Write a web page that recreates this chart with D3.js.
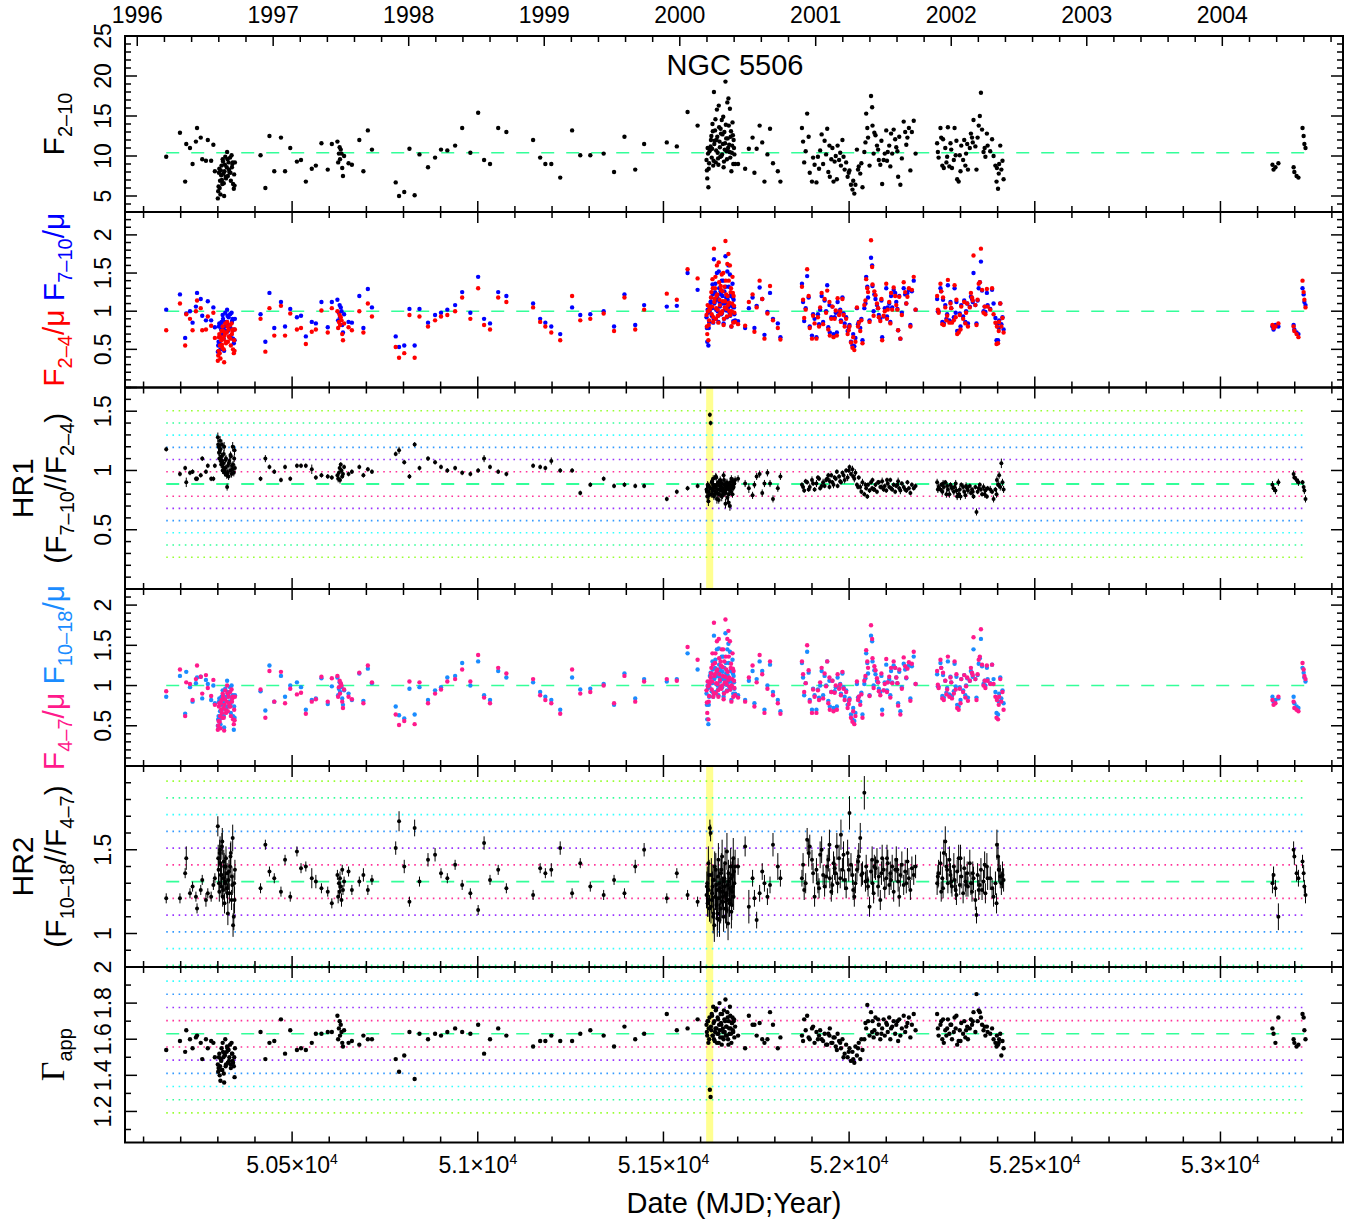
<!DOCTYPE html>
<html>
<head>
<meta charset="utf-8">
<script src="https://cdn.jsdelivr.net/npm/d3@7"></script>
<style>
  body { margin: 0; background: #fff; }
  text { font-family: "Liberation Sans", Arial, Helvetica, sans-serif; }
</style>
</head>
<body>
<div id="chart"></div>
<script>
// observation dates (MJD), one entry per pointing
var mjd = [
  50161,50198,50212,50215,50225,50232,50241,50244,50254,50258,50268,50273,50282,50288,50292,
  50300,50301,50302,50303,50304,50306,50307,50309,50310,50312,50313,50315,50317,50318,50320,50322,50324,50325,50327,50329,50331,50333,50335,50337,50338,50340,50341,50343,50344,50346,
  50415,50428,50439,50452,50470,50481,50495,50513,50524,50537,50553,50564,50579,50596,50607,
  50622,50624,50626,50628,50629,50631,50633,50635,50637,50640,
  50652,50661,50681,50692,50704,50715,
  50779,50788,50802,50816,50830,50843,
  50866,50885,50901,50918,50939,50958,50980,51001,51017,51033,51055,51077,51149,51168,51182,51198,51222,51254,51276,51303,
  51339,51367,51395,51424,51448,51509,51536,51565,51592,
  51616,51618,51619,51621,51622,51624,51625,51627,51629,51630,51632,51634,51636,51637,51639,51641,51643,51644,51646,51648,51650,51651,51653,51655,51657,51658,51660,51662,51664,51665,51667,51669,51671,51672,51674,51676,51678,51679,51681,51683,51685,51686,51688,51689,51691,51693,
  51701,51720,51730,51740,51745,51751,51759,51766,51772,51780,51787,51795,51808,51815,
  51873,51879,51887,51894,51900,51907,51912,51916,51922,51930,51934,51941,51947,51948,51952,51958,51964,51969,51973,51978,51982,51988,51992,51996,52001,52005,52009,52014,52017,52021,52026,52030,52036,52041,52046,52049,52051,52055,52059,52062,52063,52066,52071,52075,52080,52084,52089,52093,52096,52100,52104,52108,52111,52116,52120,52124,52127,52132,52135,52138,52142,52147,52151,52157,52161,52165,52169,52174,52179,
  52237,52241,52246,52248,52251,52255,52259,52264,52266,52270,52273,52277,52282,52284,52287,52291,52295,52298,52302,52307,52310,52313,52318,52320,52325,52328,52331,52335,52340,52343,52346,52352,52355,52358,52362,52367,52371,52373,52385,52389,52394,52397,52398,52401,52404,52407,52410,52413,52416,
  53140,53143,53148,53156,53197,53199,53205,53210,53221,53224,53226,53229,
  51617,51620,51623,51628,51631,51633,51635,51638,51640,51642,51645,51647,51649,51652,51654,51656,51659,51661,51663,51666,51668,51670,51673,51675,51677,51680,51682,51684,51687,51690,
  50305,50308,50311,50314,50316,50319,50321,50326,50330,50334,50339,50345,
  51876,51883,51891,51903,51919,51926,51938,51944,51955,51961,51967,51976,51985,51999,52011,52024,52033,52044,52068,52078,52087,52102,52113,52130,52154,
  52239,52253,52262,52275,52289,52300,52315,52333,52349,52365,52380,52403
];

// 2-10 keV flux
var f210 = [
  9.9,12.9,6.8,11.5,11.0,9.0,11.8,13.5,12.3,9.6,9.4,12.0,9.4,11.4,8.1,
  4.7,5.6,6.2,7.9,8.4,6.9,5.2,7.6,8.8,6.5,9.6,7.8,5.0,8.1,9.9,7.2,8.6,10.5,7.5,9.2,8.0,9.8,6.9,10.1,8.6,9.2,6.5,5.9,7.7,9.2,
  10.1,6.0,12.5,8.1,12.3,8.1,11.0,9.3,9.5,6.8,8.4,8.8,11.6,8.3,11.5,
  11.8,9.2,10.3,11.1,9.6,10.8,10.3,8.5,7.5,10.0,
  9.1,8.9,12.0,8.1,13.2,10.8,
  6.7,5.0,5.5,10.9,5.1,10.2,
  8.6,9.8,10.8,10.7,11.3,13.5,10.4,15.4,9.5,9.0,13.5,13.0,12.0,9.8,9.0,9.0,7.3,13.2,10.1,10.1,
  10.3,8.0,12.4,8.3,11.5,11.7,11.2,15.5,13.8,
  9.5,7.2,11.0,6.1,8.4,10.6,10.8,11.2,12.5,9.8,14.0,8.8,18.0,11.5,13.2,9.2,12.0,15.8,10.4,8.9,13.6,11.8,9.9,12.8,14.5,10.2,11.5,8.6,13.0,10.8,19.3,12.2,9.6,16.7,11.0,13.8,10.5,15.9,12.4,8.1,11.3,14.2,9.0,12.0,10.2,9.0,
  9.0,8.4,10.9,12.3,7.9,10.9,13.8,11.7,6.8,10.2,13.4,9.1,8.1,6.8,
  13.5,9.2,15.3,7.9,6.8,8.9,6.7,9.9,10.7,9.0,11.9,13.4,11.3,7.4,9.6,6.8,10.0,11.3,9.5,8.8,12.0,8.3,9.2,7.4,8.2,6.4,5.8,5.3,6.4,10.8,8.7,7.8,6.1,10.5,15.3,13.5,12.3,8.8,17.5,16.1,13.8,10.3,12.6,11.3,9.5,8.9,6.5,9.5,10.3,13.2,10.5,11.3,8.7,10.3,13.3,12.1,11.1,7.4,12.4,6.4,9.7,14.3,13.0,12.3,13.5,8.2,13.0,14.4,10.3,
  11.6,9.8,13.5,12.3,8.8,8.5,11.0,9.9,13.6,8.7,11.6,8.5,9.5,13.5,10.1,7.1,6.8,10.1,11.3,9.5,12.0,8.8,11.5,8.3,11.0,12.8,12.3,14.5,11.2,8.3,12.3,15.0,17.9,13.3,10.5,9.9,12.8,11.3,12.1,10.0,8.8,6.8,8.5,5.9,9.0,11.3,8.3,9.4,7.1,
  8.9,8.3,8.6,9.1,8.6,8.0,7.5,7.3,13.5,12.5,11.5,11.0,
  8.2,10.3,9.1,12.0,10.9,13.1,9.4,11.9,14.6,10.7,12.4,9.7,16.3,11.1,13.4,10.0,12.7,14.9,9.3,11.6,13.9,10.6,12.2,17.2,11.4,9.8,13.1,10.4,12.6,11.0,
  6.0,8.2,7.0,9.3,6.6,8.9,7.4,9.6,8.3,7.9,9.0,6.3,
  11.8,10.6,12.4,9.8,8.4,12.7,10.2,8.0,11.0,9.3,7.1,10.4,9.9,7.9,6.9,8.3,9.1,11.7,12.9,10.8,11.9,9.4,12.8,10.6,11.4,
  10.5,12.1,9.2,10.8,11.9,8.1,10.3,11.7,13.8,11.0,10.6,7.8
];

// F(2-4)/mean (red) and F(7-10)/mean (blue)
var r24 = [
  0.75,1.10,0.55,0.96,0.90,0.75,1.00,1.14,1.04,0.75,0.76,0.93,0.81,0.98,0.65,
  0.35,0.42,0.48,0.66,0.70,0.55,0.38,0.62,0.74,0.52,0.80,0.64,0.33,0.68,0.84,0.58,0.72,0.86,0.60,0.76,0.66,0.82,0.55,0.84,0.70,0.76,0.50,0.45,0.62,0.76,
  0.90,0.47,1.04,0.68,1.07,0.68,0.97,0.76,0.78,0.57,0.73,0.76,1.01,0.72,1.04,
  1.00,0.78,0.86,0.95,0.82,0.92,0.88,0.70,0.62,0.84,
  0.79,0.75,1.00,0.72,1.10,0.93,
  0.53,0.39,0.45,0.95,0.39,0.93,
  0.80,0.88,0.93,0.95,1.00,1.18,0.90,1.30,0.82,0.76,1.18,1.12,1.05,0.86,0.80,0.72,0.62,1.20,0.88,0.90,
  0.97,0.74,1.18,0.76,1.02,1.23,1.15,1.55,1.43,
  0.95,0.70,1.08,0.62,0.82,1.05,1.02,1.06,1.25,0.96,1.42,0.86,1.82,1.12,1.30,0.90,1.20,1.60,1.02,0.85,1.38,1.15,0.97,1.28,1.48,1.00,1.13,0.82,1.32,1.05,1.92,1.22,0.93,1.62,1.08,1.40,1.00,1.60,1.25,0.80,1.10,1.45,0.85,1.20,0.98,0.86,
  0.83,0.81,1.12,1.22,0.73,1.05,1.40,1.16,0.64,0.97,1.33,0.88,0.78,0.63,
  1.32,0.91,1.55,0.78,0.64,0.84,0.64,0.92,1.05,0.83,1.16,1.27,1.12,0.68,0.90,0.66,1.01,1.17,0.95,0.86,1.16,0.80,0.90,0.70,0.80,0.59,0.52,0.49,0.60,1.05,0.85,0.74,0.58,1.08,1.42,1.30,1.25,0.86,1.93,1.58,1.35,0.94,1.21,1.10,0.92,0.87,0.62,0.94,1.00,1.36,1.02,1.12,0.84,1.02,1.31,1.20,1.08,0.75,1.19,0.64,0.95,1.38,1.25,1.19,1.30,0.80,1.28,1.45,1.02,
  1.20,0.98,1.36,1.26,0.83,0.82,1.05,0.94,1.41,0.85,1.10,0.85,0.88,1.34,0.92,0.70,0.72,0.95,1.06,0.90,1.12,0.84,1.10,0.80,1.05,1.24,1.18,1.73,1.08,0.82,1.15,1.38,1.82,1.28,0.98,0.96,1.29,1.06,1.30,0.96,0.85,0.57,0.80,0.58,0.86,1.10,0.80,0.91,0.72,
  0.82,0.78,0.80,0.84,0.80,0.74,0.70,0.66,1.40,1.25,1.15,1.05,
  0.80,1.00,0.88,1.18,1.06,1.30,0.92,1.16,1.45,1.04,1.22,0.94,1.64,1.08,1.33,0.97,1.26,1.50,0.90,1.13,1.40,1.03,1.20,1.75,1.11,0.95,1.30,1.00,1.24,1.07,
  0.45,0.66,0.56,0.74,0.50,0.72,0.60,0.80,0.67,0.64,0.74,0.48,
  1.15,1.02,1.20,0.94,0.80,1.24,0.98,0.76,1.06,0.90,0.68,1.00,0.95,0.75,0.66,0.80,0.88,1.14,1.26,1.04,1.16,0.90,1.24,1.02,1.10,
  1.02,1.18,0.88,1.04,1.15,0.76,0.98,1.14,1.36,1.06,1.02,0.74
];
var r710 = [
  1.02,1.22,0.65,0.97,1.00,0.85,1.06,1.24,1.16,0.94,0.88,1.13,0.88,1.05,0.79,
  0.47,0.55,0.60,0.80,0.84,0.68,0.50,0.76,0.86,0.64,0.95,0.78,0.48,0.80,0.98,0.72,0.86,1.02,0.74,0.92,0.80,0.96,0.68,0.98,0.86,0.90,0.64,0.58,0.76,0.90,
  0.96,0.60,1.24,0.78,1.12,0.80,1.03,0.92,0.94,0.67,0.86,0.84,1.12,0.79,1.12,
  1.15,0.88,0.98,1.08,0.92,1.05,1.00,0.82,0.72,0.96,
  0.86,0.85,1.20,0.78,1.29,1.05,
  0.67,0.53,0.55,1.03,0.55,1.03,
  0.85,0.95,0.98,1.02,1.08,1.25,0.98,1.45,0.90,0.84,1.25,1.20,1.10,0.90,0.85,0.80,0.70,1.05,0.95,0.96,
  1.00,0.80,1.22,0.82,1.08,1.06,1.07,1.50,1.28,
  0.92,0.60,1.02,0.55,0.78,1.00,1.08,1.12,1.18,0.94,1.35,0.85,1.68,1.10,1.25,0.90,1.15,1.50,1.00,0.86,1.30,1.12,0.96,1.22,1.40,0.98,1.10,0.84,1.26,1.02,1.72,1.18,0.92,1.52,1.05,1.32,0.98,1.48,1.20,0.80,1.06,1.36,0.87,1.15,0.96,0.88,
  0.87,0.78,1.04,1.18,0.78,1.07,1.31,1.16,0.69,0.99,1.24,0.90,0.84,0.66,
  1.36,0.87,1.46,0.80,0.68,0.90,0.66,0.96,1.02,0.86,1.14,1.34,1.08,0.72,0.92,0.70,0.98,1.12,0.98,0.88,1.18,0.84,0.92,0.74,0.82,0.60,0.55,0.54,0.65,1.04,0.86,0.78,0.62,1.04,1.45,1.32,1.18,0.88,1.70,1.60,1.33,1.00,1.16,1.08,0.95,0.90,0.66,0.93,1.04,1.30,1.05,1.10,0.86,1.05,1.28,1.24,1.12,0.75,1.20,0.64,0.98,1.30,1.22,1.24,1.28,0.82,1.26,1.40,1.02,
  1.16,1.00,1.30,1.26,0.86,0.84,1.08,0.96,1.34,0.88,1.12,0.86,0.92,1.30,0.98,0.74,0.74,0.97,1.08,0.93,1.14,0.86,1.10,0.84,1.06,1.19,1.16,1.50,1.08,0.84,1.14,1.38,1.65,1.27,1.00,0.99,1.24,1.08,1.28,1.10,0.91,0.62,0.83,0.62,0.88,1.10,0.83,0.92,0.76,
  0.80,0.76,0.82,0.80,0.82,0.76,0.72,0.70,1.30,1.22,1.12,1.08,
  0.78,0.98,0.86,1.12,1.04,1.22,0.90,1.12,1.36,1.02,1.18,0.94,1.52,1.06,1.26,0.96,1.20,1.40,0.90,1.10,1.32,1.01,1.15,1.60,1.08,0.94,1.24,0.99,1.18,1.05,
  0.58,0.82,0.70,0.90,0.64,0.86,0.74,0.94,0.82,0.78,0.88,0.62,
  1.12,1.04,1.18,0.96,0.83,1.20,1.00,0.79,1.06,0.92,0.72,1.02,0.97,0.79,0.70,0.83,0.90,1.10,1.22,1.04,1.14,0.93,1.20,1.03,1.10,
  1.00,1.15,0.90,1.04,1.12,0.80,1.00,1.12,1.30,1.06,1.03,0.78
];

// HR1 = F(7-10)/F(2-4) and its 1-sigma error
var hr1 = [
  1.18,0.97,1.02,0.90,0.98,0.99,0.93,0.93,0.96,1.10,0.99,1.04,0.93,0.93,1.04,
  1.28,1.22,1.20,1.15,1.10,1.25,1.18,1.05,1.12,1.08,1.00,1.06,1.20,0.98,1.02,1.10,0.96,0.86,1.04,0.95,1.08,1.00,1.12,0.97,1.04,1.20,1.05,0.98,1.10,1.02,
  0.93,1.10,1.03,0.99,0.92,1.03,0.93,1.04,1.04,1.04,1.01,0.94,0.96,0.95,0.94,
  0.96,0.93,0.98,1.02,0.92,1.05,1.00,0.95,0.97,1.03,
  0.97,0.99,1.03,0.96,1.01,0.99,
  1.14,1.17,1.07,0.95,1.22,1.02,
  1.10,1.07,1.03,1.00,1.02,0.98,0.97,1.00,1.10,1.03,0.99,0.97,1.04,1.03,1.02,1.08,1.00,1.00,0.81,0.88,
  0.93,0.87,0.88,0.87,0.87,0.76,0.82,0.85,0.87,
  0.84,0.78,0.88,0.74,0.82,0.86,1.47,1.40,0.80,0.90,0.84,0.93,0.78,0.86,0.82,0.95,0.88,0.76,0.84,0.90,0.80,0.87,0.92,0.83,0.78,0.89,0.85,0.96,0.81,0.88,0.72,0.84,0.90,0.77,0.86,0.80,0.88,0.70,0.85,0.93,0.87,0.80,0.91,0.86,0.89,0.92,
  0.93,0.89,0.85,0.79,0.88,0.95,0.97,0.81,0.89,0.98,0.89,0.76,0.85,0.95,
  0.88,0.83,0.90,0.86,0.92,0.84,0.89,0.94,0.85,0.90,0.87,0.93,0.86,0.91,0.96,0.88,0.93,0.87,0.95,0.90,0.98,0.92,1.00,0.94,1.03,0.97,1.01,0.93,0.98,0.88,0.94,0.86,0.90,0.80,0.85,0.78,0.88,0.83,0.90,0.85,0.92,0.84,0.88,0.82,0.90,0.86,0.91,0.84,0.87,0.83,0.89,0.86,0.92,0.84,0.88,0.82,0.87,0.91,0.85,0.83,0.89,0.86,0.84,0.90,0.85,0.81,0.88,0.85,0.87,
  0.90,0.86,0.84,0.88,0.82,0.86,0.90,0.87,0.84,0.80,0.88,0.85,0.82,0.86,0.89,0.78,0.80,0.84,0.88,0.86,0.82,0.79,0.85,0.83,0.87,0.81,0.84,0.78,0.86,0.65,0.82,0.88,0.84,0.80,0.86,0.83,0.78,0.85,0.82,0.76,0.84,0.80,0.92,0.88,0.96,0.86,1.06,0.90,0.84,
  0.88,0.85,0.83,0.90,0.97,0.94,0.92,0.90,0.90,0.86,0.83,0.76,
  0.82,0.87,0.79,0.85,0.91,0.83,0.88,0.80,0.86,0.94,0.81,0.89,0.75,0.84,0.90,0.86,0.79,0.83,0.92,0.87,0.81,0.85,0.88,0.73,0.84,0.90,0.82,0.87,0.85,0.89,
  1.16,1.08,1.22,1.03,1.14,1.00,1.09,0.98,1.06,1.13,1.01,1.17,
  0.86,0.91,0.84,0.89,0.93,0.87,0.92,0.96,0.90,0.94,0.99,0.91,0.96,1.00,0.95,0.86,0.82,0.88,0.84,0.90,0.86,0.92,0.85,0.88,0.83,
  0.84,0.89,0.80,0.86,0.83,0.78,0.87,0.82,0.85,0.80,0.84,0.88
];
var hr1Err = [
  0.02,0.02,0.02,0.04,0.02,0.02,0.02,0.02,0.02,0.02,0.02,0.02,0.02,0.02,0.02,
  0.04,0.04,0.03,0.03,0.03,0.04,0.04,0.03,0.03,0.03,0.03,0.03,0.04,0.03,0.03,0.03,0.03,0.03,0.03,0.03,0.03,0.03,0.03,0.03,0.03,0.04,0.03,0.03,0.03,0.03,
  0.02,0.03,0.02,0.02,0.02,0.02,0.02,0.02,0.02,0.02,0.04,0.02,0.02,0.02,0.02,
  0.02,0.03,0.02,0.02,0.03,0.02,0.02,0.02,0.02,0.02,
  0.02,0.02,0.02,0.02,0.02,0.02,
  0.02,0.03,0.02,0.02,0.02,0.02,
  0.02,0.02,0.02,0.02,0.02,0.02,0.02,0.02,0.03,0.02,0.02,0.02,0.02,0.02,0.02,0.03,0.02,0.02,0.02,0.02,
  0.02,0.02,0.02,0.02,0.02,0.02,0.02,0.02,0.02,
  0.03,0.03,0.03,0.04,0.03,0.03,0.02,0.02,0.03,0.03,0.03,0.03,0.03,0.03,0.03,0.03,0.03,0.04,0.03,0.03,0.03,0.03,0.03,0.03,0.04,0.03,0.03,0.03,0.03,0.03,0.04,0.03,0.03,0.03,0.03,0.03,0.03,0.04,0.03,0.03,0.03,0.03,0.03,0.03,0.03,0.03,
  0.03,0.03,0.04,0.03,0.03,0.03,0.03,0.03,0.03,0.03,0.03,0.03,0.03,0.03,
  0.02,0.02,0.02,0.03,0.03,0.02,0.03,0.02,0.02,0.03,0.02,0.02,0.02,0.03,0.02,0.03,0.02,0.02,0.02,0.02,0.02,0.03,0.02,0.03,0.02,0.02,0.03,0.03,0.03,0.02,0.02,0.03,0.03,0.02,0.02,0.02,0.02,0.02,0.02,0.02,0.02,0.02,0.02,0.02,0.02,0.02,0.03,0.02,0.02,0.02,0.02,0.02,0.02,0.02,0.02,0.02,0.02,0.03,0.02,0.03,0.02,0.02,0.02,0.02,0.02,0.02,0.02,0.02,0.02,
  0.03,0.03,0.02,0.02,0.03,0.03,0.02,0.03,0.02,0.03,0.02,0.03,0.03,0.02,0.03,0.03,0.03,0.03,0.02,0.03,0.02,0.03,0.02,0.03,0.02,0.02,0.02,0.02,0.02,0.03,0.02,0.02,0.02,0.02,0.03,0.03,0.02,0.02,0.02,0.03,0.02,0.03,0.03,0.02,0.03,0.03,0.04,0.03,0.03,
  0.03,0.03,0.03,0.03,0.03,0.02,0.03,0.03,0.02,0.02,0.03,0.03,
  0.03,0.03,0.03,0.04,0.03,0.03,0.03,0.03,0.03,0.03,0.04,0.03,0.03,0.03,0.03,0.03,0.03,0.03,0.03,0.04,0.03,0.03,0.03,0.04,0.03,0.03,0.03,0.03,0.03,0.03,
  0.04,0.03,0.04,0.03,0.03,0.03,0.03,0.03,0.03,0.03,0.03,0.04,
  0.02,0.02,0.02,0.02,0.02,0.02,0.02,0.02,0.02,0.02,0.02,0.02,0.02,0.02,0.02,0.02,0.02,0.02,0.02,0.02,0.02,0.02,0.02,0.02,0.02,
  0.03,0.03,0.03,0.03,0.03,0.03,0.03,0.03,0.03,0.03,0.03,0.03
];

// F(4-7)/mean (magenta) and F(10-18)/mean (azure)
var r47 = [
  0.93,1.20,0.62,1.04,1.02,0.82,1.08,1.25,1.11,0.90,1.13,0.97,0.87,1.07,0.76,
  0.45,0.50,0.56,0.74,0.78,0.62,0.47,0.70,0.82,0.60,0.90,0.72,0.44,0.76,0.94,0.66,0.80,1.00,0.68,0.86,0.74,0.92,0.62,0.95,0.80,0.86,0.58,0.52,0.70,0.86,
  0.95,0.60,1.18,0.80,1.17,0.78,0.96,0.89,0.91,0.65,0.80,0.83,1.11,0.80,1.09,
  1.12,0.86,0.98,1.06,0.90,1.03,1.00,0.80,0.72,0.95,
  0.86,0.83,1.16,0.78,1.25,1.04,
  0.64,0.51,0.56,1.05,0.52,1.04,
  0.78,0.90,0.95,1.05,1.08,1.20,1.05,1.38,0.85,0.78,1.22,1.15,1.08,0.88,0.82,0.78,0.65,1.20,0.90,0.92,
  1.00,0.78,1.12,0.80,1.05,1.08,1.06,1.48,1.32,
  0.94,0.66,1.05,0.58,0.80,1.02,1.05,1.10,1.22,0.95,1.40,0.86,1.78,1.12,1.28,0.90,1.18,1.55,1.02,0.86,1.34,1.14,0.97,1.25,1.45,1.00,1.12,0.83,1.30,1.04,1.82,1.20,0.93,1.58,1.07,1.36,0.99,1.55,1.22,0.80,1.08,1.40,0.86,1.18,0.97,0.88,
  0.85,0.80,1.10,1.25,0.74,1.04,1.38,1.14,0.66,0.96,1.30,0.88,0.78,0.65,
  1.30,0.92,1.50,0.80,0.66,0.86,0.66,0.94,1.04,0.84,1.15,1.30,1.10,0.70,0.92,0.68,1.00,1.14,0.96,0.88,1.17,0.82,0.92,0.72,0.82,0.60,0.55,0.52,0.62,1.05,0.86,0.76,0.60,1.06,1.44,1.30,1.22,0.87,1.75,1.58,1.34,0.97,1.19,1.09,0.93,0.88,0.64,0.94,1.02,1.33,1.04,1.11,0.85,1.03,1.30,1.22,1.10,0.75,1.20,0.64,0.96,1.35,1.24,1.21,1.29,0.81,1.27,1.42,1.02,
  1.18,0.97,1.32,1.22,0.84,0.82,1.06,0.95,1.36,0.86,1.10,0.84,0.90,1.30,0.95,0.72,0.70,0.96,1.08,0.92,1.13,0.85,1.10,0.81,1.06,1.22,1.16,1.60,1.08,0.82,1.14,1.36,1.70,1.26,1.00,0.97,1.25,1.06,1.26,1.02,0.86,0.60,0.82,0.58,0.86,1.08,0.80,0.92,0.70,
  0.82,0.76,0.78,0.86,0.80,0.72,0.70,0.68,1.28,1.20,1.12,1.08,
  0.79,0.99,0.87,1.15,1.05,1.26,0.91,1.14,1.40,1.03,1.20,0.94,1.58,1.07,1.30,0.96,1.23,1.45,0.90,1.11,1.36,1.02,1.17,1.68,1.10,0.95,1.27,1.00,1.21,1.06,
  0.55,0.78,0.66,0.86,0.60,0.83,0.70,0.90,0.78,0.74,0.84,0.57,
  1.14,1.03,1.19,0.95,0.82,1.22,0.99,0.78,1.06,0.91,0.70,1.01,0.96,0.77,0.68,0.82,0.89,1.12,1.24,1.04,1.15,0.92,1.22,1.03,1.10,
  1.01,1.16,0.89,1.04,1.14,0.78,0.99,1.13,1.32,1.06,1.02,0.76
];
var r1018 = [
  0.86,1.12,0.65,1.17,0.98,0.80,1.03,1.10,1.11,0.84,1.07,1.02,0.82,1.00,0.78,
  0.50,0.58,0.62,0.80,0.84,0.68,0.52,0.76,0.86,0.64,0.94,0.78,0.48,0.80,0.96,0.72,0.86,1.06,0.74,0.90,0.80,0.98,0.66,1.00,0.84,0.88,0.62,0.45,0.74,0.88,
  0.93,0.69,1.25,0.80,1.12,0.86,1.00,1.04,0.98,0.70,0.82,0.84,1.09,0.77,0.99,
  1.10,0.88,0.96,1.04,0.92,1.02,0.98,0.84,0.76,0.94,
  0.90,0.82,1.15,0.81,1.21,1.03,
  0.74,0.63,0.59,0.96,0.64,0.98,
  0.82,0.94,0.98,1.10,1.12,1.28,1.00,1.30,0.88,0.82,1.18,1.10,1.04,0.92,0.86,0.82,0.70,1.10,0.95,0.96,
  1.02,0.76,1.15,0.84,1.08,1.05,1.08,1.40,1.20,
  0.90,0.58,1.00,0.52,0.76,0.98,1.12,1.16,1.15,0.93,1.30,0.86,1.62,1.08,1.22,0.92,1.12,1.45,1.00,0.88,1.26,1.10,0.98,1.18,1.36,0.98,1.08,0.86,1.22,1.02,1.65,1.15,0.94,1.45,1.04,1.28,0.98,1.42,1.18,0.82,1.04,1.32,0.90,1.12,0.96,0.90,
  0.88,0.82,1.06,1.18,0.78,1.08,1.30,1.18,0.70,1.00,1.26,0.92,0.82,0.68,
  1.28,0.88,1.42,0.82,0.70,0.88,0.70,0.95,1.00,0.88,1.12,1.30,1.06,0.74,0.92,0.72,0.98,1.10,0.98,0.90,1.15,0.86,0.94,0.76,0.84,0.64,0.58,0.56,0.66,1.02,0.86,0.80,0.64,1.02,1.40,1.28,1.15,0.88,1.62,1.55,1.30,1.00,1.14,1.06,0.96,0.92,0.70,0.94,1.04,1.26,1.04,1.08,0.88,1.04,1.25,1.22,1.10,0.78,1.17,0.68,0.98,1.27,1.20,1.22,1.25,0.84,1.24,1.36,1.02,
  1.14,0.99,1.28,1.22,0.87,0.85,1.06,0.97,1.30,0.89,1.11,0.87,0.93,1.27,0.99,0.76,0.74,0.98,1.08,0.94,1.13,0.88,1.09,0.85,1.06,1.18,1.15,1.45,1.08,0.85,1.13,1.34,1.58,1.24,1.02,1.00,1.22,1.08,1.26,1.08,0.92,0.66,0.85,0.64,0.90,1.10,0.84,0.94,0.78,
  0.86,0.80,0.82,0.84,0.86,0.78,0.74,0.72,1.22,1.16,1.10,1.05,
  0.76,0.97,0.86,1.10,1.03,1.20,0.90,1.10,1.32,1.02,1.16,0.95,1.46,1.05,1.22,0.97,1.17,1.36,0.91,1.08,1.28,1.01,1.13,1.52,1.07,0.95,1.20,0.99,1.15,1.04,
  0.58,0.80,0.70,0.88,0.62,0.85,0.74,0.92,0.80,0.77,0.86,0.60,
  1.10,1.03,1.16,0.96,0.85,1.18,1.00,0.81,1.06,0.93,0.74,1.02,0.98,0.81,0.72,0.85,0.91,1.09,1.19,1.04,1.12,0.94,1.18,1.03,1.09,
  0.99,1.13,0.91,1.04,1.11,0.82,1.00,1.11,1.27,1.06,1.03,0.80
];

// HR2 = F(10-18)/F(4-7) and its 1-sigma error
var hr2 = [
  1.21,1.21,1.36,1.45,1.24,1.28,1.22,1.15,1.26,1.32,1.20,1.24,1.22,1.29,1.33,
  1.64,1.45,1.38,1.30,1.25,1.50,1.42,1.28,1.35,1.55,1.22,1.33,1.40,1.18,1.30,1.45,1.27,1.36,1.12,1.32,1.24,1.40,1.48,1.20,1.34,1.57,1.05,1.10,1.30,1.38,
  1.27,1.53,1.37,1.33,1.25,1.44,1.22,1.49,1.39,1.40,1.33,1.31,1.27,1.25,1.18,
  1.35,1.22,1.30,1.25,1.33,1.28,1.20,1.38,1.26,1.31,
  1.37,1.26,1.31,1.35,1.26,1.32,
  1.51,1.67,1.40,1.19,1.63,1.31,
  1.44,1.47,1.36,1.33,1.41,1.29,1.24,1.14,1.54,1.32,1.38,1.27,1.23,1.39,1.36,1.38,1.51,1.24,1.42,1.28,
  1.23,1.32,1.24,1.40,1.50,1.21,1.36,1.23,1.19,
  1.23,1.30,1.18,1.42,1.26,1.15,1.63,1.60,1.35,1.20,1.28,1.10,1.32,1.05,1.22,1.38,1.17,1.26,1.12,1.44,1.30,1.08,1.25,1.36,1.19,1.46,1.22,1.10,1.33,1.28,1.15,1.24,1.49,1.20,1.06,1.31,1.18,1.27,1.40,1.13,1.25,1.35,1.45,1.22,1.30,1.40,
  1.40,1.52,1.16,1.33,1.21,1.08,1.24,1.37,1.30,1.22,1.29,1.53,1.40,1.33,
  1.33,1.26,1.56,1.52,1.44,1.22,1.38,1.30,1.47,1.35,1.28,1.40,1.53,1.33,1.25,1.42,1.36,1.30,1.45,1.59,1.38,1.32,1.27,1.48,1.72,1.41,1.35,1.22,1.30,1.38,1.46,1.57,1.36,1.84,1.40,1.32,1.28,1.16,1.37,1.44,1.30,1.24,1.39,1.43,1.34,1.20,1.45,1.38,1.27,1.33,1.42,1.29,1.36,1.40,1.25,1.38,1.44,1.31,1.22,1.35,1.41,1.29,1.37,1.43,1.33,1.26,1.39,1.35,1.40,
  1.30,1.36,1.42,1.25,1.33,1.48,1.55,1.38,1.30,1.44,1.35,1.28,1.40,1.32,1.26,1.37,1.45,1.29,1.34,1.24,1.39,1.31,1.36,1.28,1.42,1.30,1.25,1.33,1.20,1.11,1.35,1.29,1.38,1.26,1.31,1.24,1.40,1.33,1.27,1.22,1.30,1.18,1.53,1.46,1.38,1.34,1.30,1.35,1.32,
  1.30,1.35,1.27,1.10,1.50,1.46,1.36,1.33,1.43,1.36,1.28,1.23,
  1.28,1.20,1.35,1.16,1.24,1.32,1.12,1.40,1.22,1.29,1.09,1.34,1.21,1.27,1.15,1.38,1.25,1.19,1.31,1.42,1.23,1.14,1.29,1.36,1.20,1.26,1.33,1.17,1.28,1.37,
  1.48,1.35,1.52,1.26,1.43,1.31,1.40,1.24,1.37,1.46,1.29,1.20,
  1.41,1.30,1.48,1.36,1.27,1.50,1.34,1.44,1.29,1.39,1.52,1.33,1.47,1.38,1.26,1.43,1.35,1.31,1.40,1.28,1.36,1.45,1.32,1.38,1.30,
  1.34,1.27,1.40,1.31,1.23,1.45,1.29,1.36,1.26,1.41,1.33,1.38
];
var hr2Err = [
  0.03,0.03,0.03,0.07,0.03,0.03,0.03,0.03,0.03,0.03,0.04,0.03,0.03,0.03,0.03,
  0.06,0.08,0.07,0.06,0.06,0.08,0.08,0.06,0.07,0.08,0.06,0.07,0.08,0.06,0.06,0.07,0.06,0.06,0.07,0.06,0.06,0.07,0.07,0.06,0.06,0.08,0.07,0.08,0.06,0.06,
  0.03,0.03,0.03,0.03,0.03,0.03,0.03,0.03,0.03,0.03,0.06,0.04,0.03,0.03,0.03,
  0.03,0.04,0.03,0.03,0.04,0.03,0.04,0.03,0.03,0.03,
  0.03,0.03,0.03,0.04,0.03,0.03,
  0.04,0.06,0.04,0.03,0.05,0.03,
  0.04,0.04,0.03,0.03,0.03,0.03,0.03,0.03,0.04,0.03,0.03,0.03,0.03,0.03,0.03,0.04,0.04,0.03,0.03,0.03,
  0.03,0.03,0.03,0.04,0.04,0.03,0.03,0.03,0.03,
  0.08,0.10,0.08,0.10,0.09,0.08,0.05,0.05,0.10,0.08,0.09,0.10,0.09,0.10,0.08,0.10,0.09,0.08,0.10,0.10,0.09,0.10,0.08,0.09,0.10,0.10,0.08,0.09,0.10,0.08,0.09,0.08,0.11,0.08,0.10,0.09,0.08,0.09,0.11,0.10,0.09,0.10,0.12,0.08,0.09,0.10,
  0.05,0.06,0.10,0.05,0.05,0.05,0.05,0.05,0.05,0.05,0.05,0.07,0.08,0.05,
  0.05,0.06,0.07,0.07,0.06,0.06,0.07,0.06,0.08,0.06,0.06,0.07,0.09,0.06,0.06,0.07,0.06,0.06,0.08,0.09,0.07,0.06,0.06,0.08,0.10,0.07,0.06,0.06,0.06,0.07,0.08,0.09,0.07,0.10,0.07,0.06,0.06,0.06,0.07,0.08,0.06,0.06,0.07,0.08,0.06,0.06,0.08,0.07,0.06,0.06,0.08,0.06,0.07,0.07,0.06,0.07,0.08,0.06,0.06,0.07,0.08,0.06,0.07,0.08,0.06,0.06,0.07,0.06,0.07,
  0.07,0.08,0.07,0.06,0.07,0.08,0.09,0.07,0.06,0.08,0.07,0.06,0.08,0.07,0.06,0.07,0.08,0.06,0.07,0.06,0.07,0.06,0.07,0.06,0.08,0.07,0.06,0.07,0.06,0.05,0.07,0.06,0.07,0.06,0.07,0.06,0.08,0.07,0.06,0.06,0.07,0.06,0.09,0.08,0.08,0.07,0.07,0.08,0.07,
  0.06,0.05,0.05,0.08,0.05,0.05,0.05,0.05,0.04,0.05,0.04,0.05,
  0.09,0.10,0.09,0.10,0.08,0.09,0.10,0.09,0.08,0.10,0.11,0.09,0.08,0.10,0.09,0.10,0.09,0.08,0.10,0.09,0.10,0.11,0.09,0.08,0.10,0.09,0.10,0.09,0.10,0.09,
  0.08,0.07,0.08,0.06,0.07,0.06,0.07,0.06,0.07,0.08,0.06,0.08,
  0.07,0.06,0.08,0.06,0.06,0.08,0.07,0.07,0.06,0.07,0.08,0.06,0.08,0.07,0.06,0.07,0.07,0.06,0.07,0.06,0.07,0.08,0.06,0.07,0.06,
  0.07,0.06,0.08,0.07,0.06,0.08,0.07,0.07,0.06,0.08,0.07,0.07
];

// apparent photon index
var gam = [
  1.54,1.59,1.53,1.65,1.60,1.55,1.61,1.62,1.58,1.49,1.60,1.55,1.59,1.58,1.50,
  1.46,1.42,1.44,1.50,1.52,1.45,1.37,1.48,1.55,1.43,1.58,1.50,1.36,1.52,1.60,1.46,1.53,1.56,1.47,1.54,1.50,1.57,1.44,1.58,1.52,1.48,1.47,1.45,1.50,1.55,
  1.64,1.49,1.58,1.59,1.71,1.52,1.65,1.54,1.55,1.54,1.58,1.63,1.63,1.64,1.64,
  1.73,1.60,1.66,1.70,1.62,1.68,1.64,1.58,1.56,1.65,
  1.58,1.59,1.57,1.62,1.60,1.60,
  1.49,1.42,1.51,1.64,1.38,1.63,
  1.60,1.63,1.62,1.64,1.66,1.64,1.63,1.68,1.52,1.60,1.66,1.62,1.56,1.59,1.59,1.62,1.59,1.59,1.63,1.65,
  1.62,1.56,1.67,1.60,1.63,1.74,1.65,1.66,1.71,
  1.68,1.62,1.70,1.58,1.66,1.72,1.32,1.28,1.65,1.74,1.62,1.78,1.60,1.70,1.64,1.76,1.66,1.58,1.72,1.63,1.68,1.80,1.61,1.69,1.57,1.74,1.66,1.60,1.71,1.64,1.82,1.67,1.62,1.75,1.60,1.70,1.63,1.78,1.66,1.58,1.69,1.72,1.64,1.70,1.61,1.67,
  1.62,1.55,1.73,1.68,1.68,1.62,1.69,1.60,1.58,1.60,1.75,1.68,1.55,1.61,
  1.62,1.71,1.73,1.60,1.66,1.58,1.64,1.60,1.65,1.59,1.63,1.57,1.62,1.66,1.58,1.61,1.56,1.63,1.59,1.55,1.60,1.52,1.57,1.50,1.55,1.48,1.53,1.47,1.56,1.51,1.58,1.49,1.54,1.60,1.66,1.79,1.70,1.62,1.75,1.64,1.70,1.61,1.72,1.63,1.68,1.60,1.66,1.71,1.62,1.69,1.64,1.72,1.60,1.67,1.70,1.63,1.68,1.59,1.71,1.62,1.66,1.73,1.64,1.69,1.72,1.61,1.68,1.74,1.65,
  1.74,1.62,1.68,1.70,1.60,1.58,1.65,1.66,1.71,1.63,1.68,1.60,1.64,1.72,1.66,1.57,1.59,1.65,1.69,1.63,1.70,1.61,1.67,1.60,1.66,1.71,1.68,1.75,1.64,1.85,1.70,1.75,1.72,1.68,1.65,1.62,1.67,1.64,1.66,1.60,1.58,1.56,1.62,1.57,1.60,1.63,1.51,1.59,1.55,
  1.66,1.63,1.58,1.72,1.60,1.58,1.56,1.57,1.74,1.72,1.65,1.60,
  1.64,1.70,1.60,1.67,1.73,1.62,1.69,1.59,1.66,1.77,1.63,1.71,1.58,1.65,1.74,1.68,1.61,1.64,1.76,1.70,1.62,1.67,1.72,1.57,1.66,1.73,1.63,1.69,1.65,1.71,
  1.40,1.49,1.43,1.53,1.41,1.51,1.45,1.55,1.48,1.46,1.52,1.39,
  1.59,1.65,1.61,1.67,1.62,1.60,1.57,1.63,1.58,1.61,1.54,1.58,1.50,1.53,1.49,1.55,1.60,1.69,1.65,1.71,1.63,1.68,1.66,1.70,1.67,
  1.66,1.71,1.62,1.68,1.73,1.59,1.65,1.70,1.76,1.67,1.63,1.58
];

// mean levels and the +/- k-step reference levels (k = 1..6)
var fluxMean = 10.4;
var hr1Mean = 0.886;
var hr1Upper = [0.989, 1.092, 1.195, 1.298, 1.401, 1.504];
var hr1Lower = [0.783, 0.680, 0.577, 0.474, 0.371, 0.268];
var hr2Mean = 1.31;
var hr2Upper = [1.41, 1.51, 1.61, 1.71, 1.81, 1.91];
var hr2Lower = [1.21, 1.11, 1.01, 0.91, 0.81];
var gamMean = 1.63;
var gamUpper = [1.703, 1.776, 1.849, 1.922, 1.995];
var gamLower = [1.557, 1.484, 1.411, 1.338, 1.265, 1.192];

// highlighted interval (MJD)
var band = [51615, 51634];

// axis labels
var yearLabels = [1996, 1997, 1998, 1999, 2000, 2001, 2002, 2003, 2004, 2005];
var yearStartMJD = [50083, 50449, 50814, 51179, 51544, 51910, 52275, 52640, 53005, 53371];
var mjdLabels = [50500, 51000, 51500, 52000, 52500, 53000];
var mjdLabelText = ["5.05", "5.1", "5.15", "5.2", "5.25", "5.3"];

var levelColors = ["#ff3399", "#9933ff", "#3399ff", "#33ffff", "#33ff99", "#99ff33"];

function init() {
  var W = 1358, H = 1222;
  var L = 125, R = 1343;

  var svg = d3.select("#chart").append("svg")
    .attr("width", W).attr("height", H)
    .style("background", "#fff");

  var x = d3.scaleLinear().domain([50050, 53330]).range([L, R]);
  var idx = d3.range(mjd.length);
  var xExt = d3.extent(mjd);

  var panels = [
    {top: 36, bottom: 212, domain: [3, 25], major: 5, minor: 1, labels: [5, 10, 15, 20, 25]},
    {top: 212, bottom: 387.5, domain: [0, 2.3], major: 0.5, minor: 0.1, labels: [0.5, 1, 1.5, 2]},
    {top: 387.5, bottom: 589, domain: [0, 1.7], major: 0.5, minor: 0.1, labels: [0.5, 1, 1.5]},
    {top: 589, bottom: 766, domain: [0, 2.2], major: 0.5, minor: 0.1, labels: [0.5, 1, 1.5, 2]},
    {top: 766, bottom: 967, domain: [0.8, 2.0], major: 0.5, minor: 0.1, labels: [1, 1.5]},
    {top: 967, bottom: 1142.5, domain: [1.028, 2.0], major: 0.2, minor: 0.1, labels: [1.2, 1.4, 1.6, 1.8, 2]}
  ];
  panels.forEach(function(p) {
    p.y = d3.scaleLinear().domain(p.domain).range([p.bottom, p.top]);
    p.g = svg.append("g");
  });

  // yellow band in the hardness / index panels
  [2, 4, 5].forEach(function(k) {
    var p = panels[k];
    p.g.append("rect")
      .attr("x", x(band[0])).attr("width", x(band[1]) - x(band[0]))
      .attr("y", p.top).attr("height", p.bottom - p.top)
      .attr("fill", "#ffff90");
  });

  function hline(p, v, color, dash, width) {
    p.g.append("line")
      .attr("x1", x(xExt[0])).attr("x2", x(xExt[1]))
      .attr("y1", p.y(v)).attr("y2", p.y(v))
      .attr("stroke", color).attr("stroke-width", width)
      .attr("stroke-dasharray", dash);
  }
  function levels(p, upper, lower, mean, meanWidth) {
    upper.forEach(function(v, i) { hline(p, v, levelColors[i], "1.6,4.6", 1.6); });
    lower.forEach(function(v, i) { hline(p, v, levelColors[i], "1.6,4.6", 1.6); });
    hline(p, mean, "#33ff99", "13,12", meanWidth);
  }

  hline(panels[0], fluxMean, "#33ff99", "13,12", 1.4);
  hline(panels[1], 1, "#33ff99", "13,12", 1.4);
  levels(panels[2], hr1Upper, hr1Lower, hr1Mean, 2.2);
  hline(panels[3], 1, "#33ff99", "13,12", 1.4);
  levels(panels[4], hr2Upper, hr2Lower, hr2Mean, 1.6);
  levels(panels[5], gamUpper, gamLower, gamMean, 1.6);

  function errBars(p, vals, errs) {
    p.g.append("g").selectAll("line").data(idx).enter().append("line")
      .attr("x1", function(i) { return x(mjd[i]); })
      .attr("x2", function(i) { return x(mjd[i]); })
      .attr("y1", function(i) { return p.y(vals[i] - errs[i]); })
      .attr("y2", function(i) { return p.y(vals[i] + errs[i]); })
      .attr("stroke", "#000").attr("stroke-width", 1);
  }
  function dots(p, vals, color, r) {
    p.g.append("g").selectAll("circle").data(idx.filter(function(i) { return vals[i] != null; }))
      .enter().append("circle")
      .attr("cx", function(i) { return x(mjd[i]); })
      .attr("cy", function(i) { return p.y(vals[i]); })
      .attr("r", r).attr("fill", color);
  }

  dots(panels[0], f210, "#000", 2.2);
  dots(panels[1], r710, "#0000ff", 2.2);
  dots(panels[1], r24, "#ff0000", 2.2);
  errBars(panels[2], hr1, hr1Err);
  dots(panels[2], hr1, "#000", 2.0);
  dots(panels[3], r1018, "#1a8cff", 2.2);
  dots(panels[3], r47, "#ff1a8c", 2.2);
  errBars(panels[4], hr2, hr2Err);
  dots(panels[4], hr2, "#000", 2.0);
  dots(panels[5], gam, "#000", 2.2);

  // frames and ticks
  var fmt = d3.format("~g");
  var mjdTicks = d3.range(50100, 53301, 100);
  panels.forEach(function(p, k) {
    var a = svg.append("g").attr("stroke", "#000");
    a.append("rect").attr("x", L).attr("y", p.top)
      .attr("width", R - L).attr("height", p.bottom - p.top)
      .attr("fill", "none").attr("stroke-width", 2);

    var i0 = Math.ceil(p.domain[0] / p.minor - 1e-6), i1 = Math.floor(p.domain[1] / p.minor + 1e-6);
    for (var i = i0; i <= i1; i++) {
      var v = +(i * p.minor).toFixed(6);
      var q = v / p.major;
      var len = Math.abs(q - Math.round(q)) < 1e-6 ? 12 : 6;
      var yy = p.y(v);
      a.append("line").attr("x1", L).attr("x2", L + len).attr("y1", yy).attr("y2", yy).attr("stroke-width", 1.5);
      a.append("line").attr("x1", R).attr("x2", R - len).attr("y1", yy).attr("y2", yy).attr("stroke-width", 1.5);
    }

    mjdTicks.forEach(function(m) {
      var len = m % 500 === 0 ? 11 : 6;
      a.append("line").attr("x1", x(m)).attr("x2", x(m))
        .attr("y1", p.bottom).attr("y2", p.bottom - len).attr("stroke-width", 1.5);
      if (k > 0) {
        a.append("line").attr("x1", x(m)).attr("x2", x(m))
          .attr("y1", p.top).attr("y2", p.top + len).attr("stroke-width", 1.5);
      }
    });

    p.labels.forEach(function(v) {
      svg.append("text")
        .attr("transform", "translate(111," + p.y(v) + ") rotate(-90)")
        .attr("text-anchor", "middle")
        .style("font-size", "23px")
        .text(fmt(v));
    });
  });

  // year axis on top of the first panel
  var top = panels[0].top;
  var ya = svg.append("g").attr("stroke", "#000");
  yearStartMJD.forEach(function(m, i) {
    if (m <= 53330) {
      ya.append("line").attr("x1", x(m)).attr("x2", x(m)).attr("y1", top).attr("y2", top + 10).attr("stroke-width", 1.5);
    }
    if (i < yearStartMJD.length - 1) {
      var nxt = yearStartMJD[i + 1];
      for (var s = 1; s < 5; s++) {
        var mm = m + (nxt - m) * s / 5;
        if (mm < 53330) {
          ya.append("line").attr("x1", x(mm)).attr("x2", x(mm)).attr("y1", top).attr("y2", top + 6).attr("stroke-width", 1.5);
        }
      }
      svg.append("text").attr("x", x(m)).attr("y", 23)
        .attr("text-anchor", "middle").style("font-size", "23px")
        .text(yearLabels[i]);
    }
  });

  // MJD labels under the last panel
  mjdLabels.forEach(function(m, i) {
    var t = svg.append("text").attr("x", x(m)).attr("y", 1173)
      .attr("text-anchor", "middle").style("font-size", "23px");
    t.append("tspan").text(mjdLabelText[i] + "\u00d710");
    t.append("tspan").attr("dy", -9).style("font-size", "14px").text("4");
  });

  svg.append("text").attr("x", (L + R) / 2).attr("y", 1213)
    .attr("text-anchor", "middle").style("font-size", "29px")
    .text("Date (MJD;Year)");

  svg.append("text").attr("x", 735).attr("y", 75)
    .attr("text-anchor", "middle").style("font-size", "29px")
    .text("NGC 5506");

  // rotated axis titles built from runs of text; sub runs are lowered
  function title(bx, cy, parts, size) {
    var t = svg.append("text")
      .attr("transform", "translate(" + bx + "," + cy + ") rotate(-90)")
      .attr("text-anchor", "middle").style("font-size", size + "px");
    var down = false;
    parts.forEach(function(p) {
      var ts = t.append("tspan").text(p.t).attr("fill", p.c || "#000");
      if (p.sub) {
        ts.style("font-size", Math.round(size * 0.66) + "px");
        if (!down) { ts.attr("dy", 8); down = true; }
      } else if (down) {
        ts.attr("dy", -8); down = false;
      }
      if (p.serif) ts.style("font-family", "'Liberation Serif', 'DejaVu Serif', serif").style("font-size", (size + 4) + "px");
    });
  }
  function mid(p) { return (p.top + p.bottom) / 2; }

  var red = "#ff0000", blue = "#0000ff", pink = "#ff1a8c", azure = "#1a8cff";
  title(64, mid(panels[0]), [{t: "F"}, {t: "2\u201310", sub: true}], 30);
  title(64, mid(panels[1]), [
    {t: "F", c: red}, {t: "2\u20134", sub: true, c: red}, {t: "/\u03bc ", c: red},
    {t: "F", c: blue}, {t: "7\u201310", sub: true, c: blue}, {t: "/\u03bc", c: blue}], 30);
  title(33, mid(panels[2]), [{t: "HR1"}], 30);
  title(66, mid(panels[2]), [
    {t: "(F"}, {t: "7\u201310", sub: true}, {t: "//F"}, {t: "2\u20134", sub: true}, {t: ")"}], 30);
  title(64, mid(panels[3]), [
    {t: "F", c: pink}, {t: "4\u20137", sub: true, c: pink}, {t: "/\u03bc ", c: pink},
    {t: "F", c: azure}, {t: "10\u201318", sub: true, c: azure}, {t: "/\u03bc", c: azure}], 30);
  title(33, mid(panels[4]), [{t: "HR2"}], 30);
  title(66, mid(panels[4]), [
    {t: "(F"}, {t: "10\u201318", sub: true}, {t: "//F"}, {t: "4\u20137", sub: true}, {t: ")"}], 30);
  title(64, mid(panels[5]), [{t: "\u0393", serif: true}, {t: "app", sub: true}], 30);
}

window.onload = init;
</script>
</body>
</html>
